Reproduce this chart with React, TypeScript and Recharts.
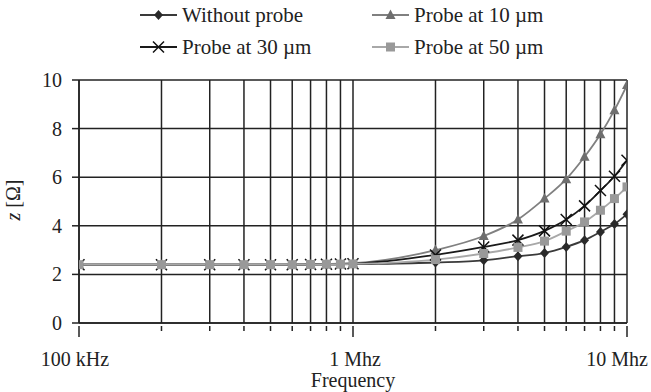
import React from 'react';
import { LineChart, Line, XAxis, YAxis, CartesianGrid } from 'recharts';

const freq = [100000, 200000, 300000, 400000, 500000, 600000, 700000, 800000, 900000, 1000000, 2000000, 3000000, 4000000, 5000000, 6000000, 7000000, 8000000, 9000000, 10000000];
const withoutProbe = [2.4, 2.4, 2.4, 2.4, 2.4, 2.4, 2.4, 2.4, 2.41, 2.42, 2.49, 2.58, 2.75, 2.88, 3.13, 3.41, 3.75, 4.07, 4.48];
const probe10 = [2.4, 2.4, 2.4, 2.4, 2.4, 2.41, 2.42, 2.43, 2.44, 2.46, 3.0, 3.58, 4.26, 5.12, 5.92, 6.84, 7.77, 8.76, 9.79];
const probe30 = [2.4, 2.4, 2.4, 2.4, 2.4, 2.4, 2.41, 2.42, 2.43, 2.44, 2.8, 3.13, 3.41, 3.79, 4.26, 4.82, 5.45, 6.04, 6.7];
const probe50 = [2.4, 2.4, 2.4, 2.4, 2.4, 2.4, 2.41, 2.42, 2.42, 2.43, 2.61, 2.86, 3.11, 3.37, 3.78, 4.16, 4.64, 5.12, 5.6];
const yTicks = [0, 2, 4, 6, 8, 10];
const xLabels: Record<number, string> = { 100000: '100 kHz', 1000000: '1 Mhz', 10000000: '10 Mhz' };
const xLabelShift: Record<number, number> = { 100000: -4, 1000000: 2, 10000000: -10 };

const data = freq.map((f, i) => ({ f, a: withoutProbe[i], b: probe10[i], c: probe30[i], d: probe50[i] }));

const FONT = 'Liberation Serif';

const diamond = (cx: number, cy: number, fill: string, key?: string) => (
  <path key={key} d={`M${cx},${cy - 5}L${cx + 4.5},${cy}L${cx},${cy + 5}L${cx - 4.5},${cy}Z`} fill={fill} />
);
const triangle = (cx: number, cy: number, fill: string, key?: string) => (
  <path key={key} d={`M${cx},${cy - 5.5}L${cx + 5},${cy + 4}L${cx - 5},${cy + 4}Z`} fill={fill} />
);
const cross = (cx: number, cy: number, fill: string, key?: string) => (
  <path key={key} d={`M${cx - 5.5},${cy - 5.5}L${cx + 5.5},${cy + 5.5}M${cx - 5.5},${cy + 5.5}L${cx + 5.5},${cy - 5.5}`} stroke={fill} strokeWidth={1.5} fill="none" />
);
const square = (cx: number, cy: number, fill: string, key?: string) => (
  <rect key={key} x={cx - 4.5} y={cy - 4.5} width={9} height={9} fill={fill} />
);

const series = [
  { key: 'a', name: 'Without probe', line: '#3a3a3a', mark: '#2a2a2a', shape: diamond },
  { key: 'b', name: 'Probe at 10 µm', line: '#808080', mark: '#6e6e6e', shape: triangle },
  { key: 'c', name: 'Probe at 30 µm', line: '#1a1a1a', mark: '#111111', shape: cross },
  { key: 'd', name: 'Probe at 50 µm', line: '#a8a8a8', mark: '#999999', shape: square },
];

const legendPos = [
  { x: 140, y: 15 },
  { x: 372, y: 15 },
  { x: 140, y: 47 },
  { x: 372, y: 47 },
];

const XTick = (props: any) => {
  const { x, y, payload } = props;
  const label = xLabels[payload.value];
  return (
    <g>
      <line x1={x} x2={x} y1={y - 5} y2={y + (label ? 6 : 0)} stroke="#222" strokeWidth={1.5} />
      {label && (
        <text x={x + xLabelShift[payload.value]} y={y + 35} textAnchor="middle" fontFamily={FONT} fontSize={20} fill="#222">
          {label}
        </text>
      )}
    </g>
  );
};

const YTick = (props: any) => {
  const { x, y, payload } = props;
  return (
    <text x={x - 2} y={y + 7} textAnchor="end" fontFamily={FONT} fontSize={20} fill="#222">
      {payload.value}
    </text>
  );
};

export default function App() {
  return (
    <div style={{ position: 'relative', width: 651, height: 392, background: '#fff', fontFamily: FONT }}>
      <style>{`body{margin:0}`}</style>
      <svg width={651} height={70} style={{ position: 'absolute', left: 0, top: 0 }}>
        {series.map((s, i) => {
          const p = legendPos[i];
          return (
            <g key={s.key}>
              <line x1={p.x} x2={p.x + 37} y1={p.y} y2={p.y} stroke={s.line} strokeWidth={1.8} />
              {s.shape(p.x + 18.5, p.y, s.mark)}
              <text x={p.x + 42} y={p.y + 7} fontFamily={FONT} fontSize={21} fill="#222">
                {s.name}
              </text>
            </g>
          );
        })}
      </svg>
      <LineChart width={651} height={392} data={data} margin={{ top: 80, right: 24, bottom: 0, left: 0 }}>
        <CartesianGrid stroke="#222" strokeWidth={1.5} horizontalValues={yTicks} verticalValues={freq} />
        <XAxis
          dataKey="f"
          type="number"
          scale="log"
          domain={[100000, 10000000]}
          ticks={freq}
          interval={0}
          allowDataOverflow
          axisLine={{ stroke: '#222', strokeWidth: 1.5 }}
          tickLine={false}
          tick={<XTick />}
          height={69}
          label={{
            content: () => (
              <text x={353} y={387} textAnchor="middle" fontFamily={FONT} fontSize={20} fill="#222">
                Frequency
              </text>
            ),
          }}
        />
        <YAxis
          type="number"
          domain={[0, 10]}
          ticks={yTicks}
          width={79}
          axisLine={{ stroke: '#222', strokeWidth: 1.5 }}
          tickLine={{ stroke: '#222', strokeWidth: 1.5 }}
          tickSize={7}
          tickMargin={8}
          tick={<YTick />}
          label={{
            content: () => (
              <text x={20} y={200} textAnchor="middle" transform="rotate(-90 20 200)" fontFamily={FONT} fontSize={20} fill="#222">
                <tspan fontStyle="italic">z</tspan> [Ω]
              </text>
            ),
          }}
        />
        {series.map((s) => (
          <Line
            key={s.key}
            dataKey={s.key}
            type="monotone"
            stroke={s.line}
            strokeWidth={1.8}
            isAnimationActive={false}
            dot={(p: any) => s.shape(p.cx, p.cy, s.mark, `${s.key}-${p.index}`)}
            activeDot={false}
          />
        ))}
      </LineChart>
    </div>
  );
}
